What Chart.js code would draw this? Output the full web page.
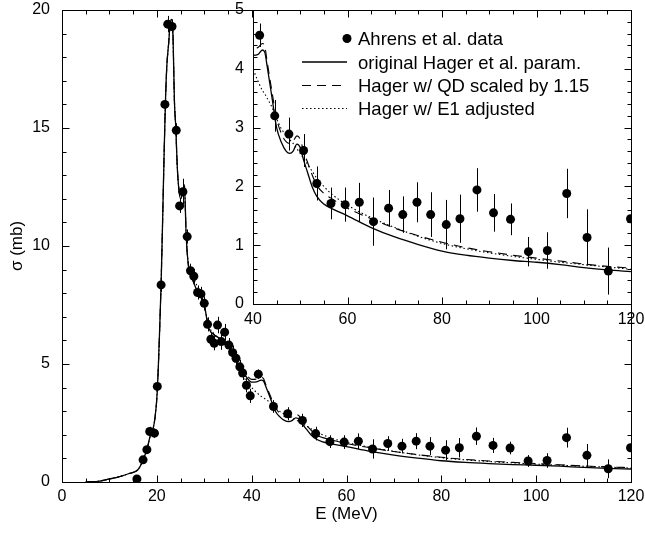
<!DOCTYPE html>
<html><head><meta charset="utf-8">
<script src="https://cdn.jsdelivr.net/npm/chart.js@4/dist/chart.umd.min.js"></script>
<style>
html,body{margin:0;padding:0;background:#fff;}
#wrap{position:relative;width:645px;height:537px;background:#fff;}
canvas{position:absolute;left:0;top:0;}
</style></head><body>
<div id="wrap"><canvas id="main" width="645" height="537"></canvas><canvas id="inset" width="645" height="537"></canvas></div>
<script>
// ---- data ----
const dataE = [15.8,17.1,17.9,18.5,19.5,20.1,20.9,21.7,22.3,23.2, 24.1,24.8,25.5,26.4,27.1,27.8,28.6,29.3,30.0,30.7,
  31.4,32.1,32.8,33.6,34.3,35.2,36.0,36.7,37.5,38.1, 38.9,39.7,41.4,44.6,47.6,50.7,53.5,56.5,59.5,62.5,
  65.5,68.7,71.7,74.7,77.6,80.9,83.8,87.4,90.9,94.5, 98.3,102.3,106.4,110.7,115.2,119.9];
const dataSigma = [0.13,0.94,1.37,2.14,2.07,4.05,8.35,16.0,19.4,19.3, 14.9,11.7,12.3,10.4,8.95,8.72,8.03,7.97,7.57,6.68,
  6.05,5.88,6.65,5.95,6.35,5.8,5.48,5.24,4.88,4.62, 4.1,3.65,4.57,3.2,2.89,2.61,2.05,1.71,1.69,1.73,
  1.40,1.63,1.52,1.73,1.52,1.35,1.45,1.94,1.55,1.44, 0.89,0.91,1.88,1.13,0.56,1.45];
const dataErr = [0.1,0.12,0.15,0.2,0.2,0.25,0.3,0.3,0.35,0.3, 0.3,0.3,0.55,0.3,0.3,0.3,0.3,0.3,0.3,0.3,
  0.3,0.3,0.35,0.35,0.35,0.3,0.3,0.3,0.3,0.3, 0.3,0.3,0.2,0.27,0.28,0.28,0.29,0.27,0.29,0.33,
  0.41,0.31,0.31,0.34,0.38,0.42,0.41,0.37,0.32,0.27, 0.25,0.31,0.42,0.48,0.4,0.3];

const curveE = [5,8,10,12,14,16,17,18,18.6,19.2, 19.6,20,20.3,20.6,20.9,21.2,21.5,21.8,22.1,22.5,
  22.8,23.1,23.4,23.7,24,24.3,24.6,25,25.5,25.8, 26.2,26.7,27.5,28.5,29.5,30,30.5,31,32,33,
  34,35,36,37,38,39,40,41,42,42.5, 43,44,45,46,47,47.8,48.5,49.3,50,50.7,
  51.5,52.5,53.5,55,56.5,60,65,70,75,80, 85,90,95,100,105,110,115,120];
const hagerOriginal = [0,0.04,0.13,0.22,0.35,0.52,0.88,1.45,1.95,2.25, 2.7,3.55,4.8,6.5,8.4,10.9,13.6,16.0,17.6,18.6,
  19.4,19.6,19.0,16.2,15.0,13.4,12.5,12.0,12.3,12.6, 10.4,9.1,8.6,8.1,7.8,7.55,6.95,6.5,6.25,6.12,
  6.02,5.8,5.45,5.05,4.7,4.42,4.23,4.24,4.32,4.28, 4.04,3.52,3.0,2.75,2.6,2.56,2.6,2.72,2.66,2.45,
  2.25,2.0,1.83,1.7,1.63,1.5,1.3,1.14,1.01,0.9, 0.83,0.78,0.74,0.71,0.67,0.62,0.58,0.55];
const hagerQDScaled = [0,0.04,0.13,0.22,0.35,0.52,0.88,1.45,1.95,2.25, 2.7,3.55,4.8,6.5,8.4,10.9,13.6,16.0,17.6,18.6,
  19.4,19.6,19.0,16.2,15.0,13.4,12.5,12.0,12.3,12.6, 10.4,9.1,8.6,8.1,7.8,7.55,6.95,6.5,6.25,6.12,
  6.05,5.85,5.52,5.15,4.8,4.52,4.35,4.36,4.43,4.38, 4.12,3.62,3.15,2.9,2.76,2.73,2.77,2.86,2.8,2.6,
  2.42,2.2,2.02,1.88,1.8,1.63,1.45,1.29,1.16,1.05, 0.96,0.89,0.83,0.78,0.73,0.68,0.64,0.61];
const hagerE1Adjusted = [0,0.04,0.13,0.22,0.35,0.52,0.88,1.45,1.95,2.25, 2.7,3.55,4.8,6.5,8.4,10.9,13.6,16.0,17.6,18.6,
  19.4,19.6,19.0,16.2,15.0,13.4,12.5,12.0,12.3,12.6, 10.4,9.2,8.8,8.3,7.85,7.5,7.0,6.6,6.3,6.1,
  5.9,5.6,5.25,4.9,4.55,4.25,4.0,3.8,3.63,3.57, 3.5,3.35,3.15,2.98,2.87,2.79,2.73,2.64,2.56,2.48,
  2.38,2.26,2.14,2.0,1.88,1.68,1.47,1.3,1.15,1.03, 0.94,0.87,0.81,0.76,0.71,0.67,0.63,0.59];

const legendLabels = ['Ahrens et al. data','original Hager et al. param.','Hager w/ QD scaled by 1.15','Hager w/ E1 adjusted'];
const mainXTitle = 'E (MeV)';
const mainYTitle = 'σ (mb)';

// ---- helpers ----
const FONT = '"Liberation Sans", Arial, Helvetica, sans-serif';
Chart.defaults.font.family = FONT;
Chart.defaults.color = '#000';

function pts(xs, ys, minX) {
  const out = [];
  for (let i = 0; i < xs.length; i++) if (minX === undefined || xs[i] >= minX) out.push({x: xs[i], y: ys[i]});
  return out;
}
function errPts(minX) {
  const out = [];
  for (let i = 0; i < dataE.length; i++) if (minX === undefined || dataE[i] >= minX) out.push({x: dataE[i], y: dataSigma[i], e: dataErr[i]});
  return out;
}
function makeDatasets(minX) {
  return [
    {label: legendLabels[0], data: pts(dataE, dataSigma, minX), errs: errPts(minX), showLine: false,
     pointRadius: 4.5, pointHoverRadius: 4.5, pointBackgroundColor: '#000', pointBorderWidth: 0, borderColor: '#000', order: 0},
    {label: legendLabels[1], data: pts(curveE, hagerOriginal), showLine: true, pointRadius: 0,
     borderColor: '#000', borderWidth: 1.3, borderDash: [], cubicInterpolationMode: 'monotone', order: 1},
    {label: legendLabels[2], data: pts(curveE, hagerQDScaled), showLine: true, pointRadius: 0,
     borderColor: '#000', borderWidth: 1.1, borderDash: [9, 6], cubicInterpolationMode: 'monotone', order: 2},
    {label: legendLabels[3], data: pts(curveE, hagerE1Adjusted), showLine: true, pointRadius: 0,
     borderColor: '#000', borderWidth: 1.1, borderDash: [1.5, 2.5], cubicInterpolationMode: 'monotone', order: 3}
  ];
}

function framePlugin(id, xStep, xMajor, yStep, yMajor, whiteBg) {
  return {
    id: id,
    beforeDraw(chart) {
      if (!whiteBg) return;
      const {ctx, chartArea: a} = chart;
      ctx.save(); ctx.fillStyle = '#fff';
      ctx.fillRect(a.left, a.top, a.right - a.left, a.bottom - a.top);
      ctx.restore();
    },
    afterDatasetsDraw(chart) {
      const {ctx, chartArea: a, scales: {x, y}} = chart;
      const ds = chart.data.datasets[0];
      ctx.save();
      ctx.beginPath(); ctx.rect(a.left, a.top, a.right - a.left, a.bottom - a.top); ctx.clip();
      ctx.strokeStyle = '#000'; ctx.lineWidth = 1;
      ds.errs.forEach(p => {
        const px = Math.round(x.getPixelForValue(p.x)) + 0.5;
        ctx.beginPath();
        ctx.moveTo(px, y.getPixelForValue(p.y - p.e));
        ctx.lineTo(px, y.getPixelForValue(p.y + p.e));
        ctx.stroke();
      });
      ctx.restore();
    },
    afterDraw(chart) {
      const {ctx, chartArea: a, scales: {x, y}} = chart;
      const L = Math.round(a.left) + 0.5, R = Math.round(a.right) + 0.5;
      const T = Math.round(a.top) + 0.5, B = Math.round(a.bottom) + 0.5;
      ctx.save();
      ctx.strokeStyle = '#000'; ctx.lineWidth = 1;
      ctx.strokeRect(L, T, R - L, B - T);
      ctx.beginPath();
      const nx = Math.round((x.max - x.min) / xStep);
      for (let i = 0; i <= nx; i++) {
        const v = x.min + i * xStep;
        const major = Math.abs(v / xMajor - Math.round(v / xMajor)) < 1e-6;
        const len = major ? 7 : 4;
        const px = Math.round(x.getPixelForValue(v)) + 0.5;
        ctx.moveTo(px, B); ctx.lineTo(px, B - len);
        ctx.moveTo(px, T); ctx.lineTo(px, T + len);
      }
      const ny = Math.round((y.max - y.min) / yStep);
      for (let i = 0; i <= ny; i++) {
        const v = y.min + i * yStep;
        const major = Math.abs(v / yMajor - Math.round(v / yMajor)) < 1e-6;
        const len = major ? 7 : 4;
        const py = Math.round(y.getPixelForValue(v)) + 0.5;
        ctx.moveTo(L, py); ctx.lineTo(L + len, py);
        ctx.moveTo(R, py); ctx.lineTo(R - len, py);
      }
      ctx.stroke();
      ctx.restore();
    }
  };
}

const legendPlugin = {
  id: 'insetLegend',
  afterDraw(chart) {
    const {ctx} = chart;
    const dsets = chart.data.datasets;
    const baselines = [45, 68.5, 92, 115];
    ctx.save();
    ctx.font = '18.5px ' + FONT;
    ctx.fillStyle = '#000';
    ctx.textAlign = 'left'; ctx.textBaseline = 'alphabetic';
    dsets.forEach((d, i) => {
      const by = baselines[i];
      const cy = by - 6.5;
      if (i === 0) {
        ctx.beginPath(); ctx.arc(347, cy, d.pointRadius, 0, Math.PI * 2); ctx.fill();
      } else {
        ctx.beginPath();
        ctx.setLineDash(d.borderDash);
        ctx.lineWidth = d.borderWidth; ctx.strokeStyle = d.borderColor;
        ctx.moveTo(302, cy); ctx.lineTo(347, cy); ctx.stroke();
        ctx.setLineDash([]);
      }
      ctx.fillText(d.label, 358, by);
    });
    ctx.restore();
  }
};

const tickFont = {family: FONT, size: 16};
function fitX(h) { return s => { s.height = h; s.paddingLeft = 0; s.paddingRight = 0; }; }
function fitY(w) { return s => { s.width = w; s.paddingTop = 0; s.paddingBottom = 0; }; }

new Chart(document.getElementById('main'), {
  type: 'scatter',
  data: {datasets: makeDatasets()},
  options: {
    responsive: false, animation: false, devicePixelRatio: 1,
    layout: {padding: {left: 0, right: 14, top: 10, bottom: 0}},
    plugins: {legend: {display: false}, tooltip: {enabled: false}},
    scales: {
      x: {type: 'linear', min: 0, max: 120,
          grid: {display: false, drawTicks: false}, border: {display: false},
          ticks: {stepSize: 20, padding: 5, font: tickFont, color: '#000', maxRotation: 0},
          title: {display: true, text: mainXTitle, font: {family: FONT, size: 17}, color: '#000', padding: {top: 0, bottom: 12}},
          afterFit: fitX(55)},
      y: {type: 'linear', min: 0, max: 20,
          grid: {display: false, drawTicks: false}, border: {display: false},
          ticks: {stepSize: 5, padding: 12, font: tickFont, color: '#000'},
          title: {display: true, text: mainYTitle, font: {family: FONT, size: 17}, color: '#000', padding: {top: 7, bottom: 0}},
          afterFit: fitY(62)}
    }
  },
  plugins: [framePlugin('mainFrame', 5, 20, 1, 5, false)]
});

new Chart(document.getElementById('inset'), {
  type: 'scatter',
  data: {datasets: makeDatasets(40)},
  options: {
    responsive: false, animation: false, devicePixelRatio: 1,
    layout: {padding: {left: 223, right: 14, top: 10, bottom: 197}},
    plugins: {legend: {display: false}, tooltip: {enabled: false}},
    scales: {
      x: {type: 'linear', min: 40, max: 120,
          grid: {display: false, drawTicks: false}, border: {display: false},
          ticks: {stepSize: 20, padding: 6, font: tickFont, color: '#000', maxRotation: 0},
          afterFit: fitX(36)},
      y: {type: 'linear', min: 0, max: 5,
          grid: {display: false, drawTicks: false}, border: {display: false},
          ticks: {stepSize: 1, padding: 9, font: tickFont, color: '#000'},
          afterFit: fitY(30)}
    }
  },
  plugins: [framePlugin('insetFrame', 5, 20, 0.2, 1, true), legendPlugin]
});
</script>
</body></html>
